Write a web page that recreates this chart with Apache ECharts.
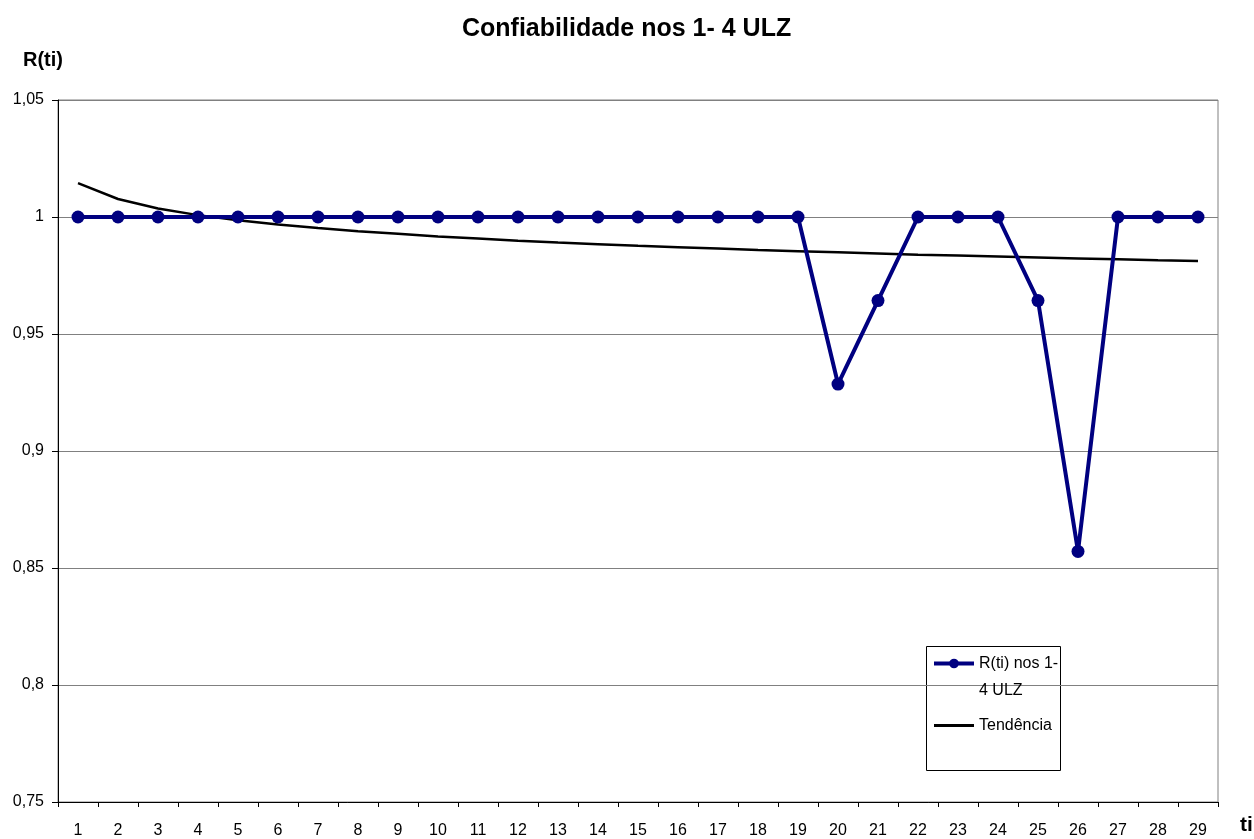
<!DOCTYPE html>
<html>
<head>
<meta charset="utf-8">
<title>Confiabilidade nos 1- 4 ULZ</title>
<script src="https://cdn.jsdelivr.net/npm/echarts@6/dist/echarts.min.js"></script>
<style>
    html, body { margin: 0; padding: 0; background: #fff; }
    #chart { width: 1254px; height: 839px; }
</style>
</head>
<body>
<div id="chart"></div>
<script>
// categorias (ti)
const ti = ['1', '2', '3', '4', '5', '6', '7', '8', '9', '10', '11', '12', '13', '14', '15',
    '16', '17', '18', '19', '20', '21', '22', '23', '24', '25', '26', '27', '28', '29'];

// R(ti) nos 1-4 ULZ
const rti = [1, 1, 1, 1, 1, 1, 1, 1, 1, 1, 1, 1, 1, 1, 1, 1, 1, 1, 1,
    0.9286, 0.9643, 1, 1, 1, 0.9643, 0.8571, 1, 1, 1];

// linha de tendência
const tendencia = [1.0145, 1.0077, 1.0036, 1.0008, 0.9986, 0.9968, 0.9953, 0.9939, 0.9928, 0.9917,
    0.9908, 0.9899, 0.9891, 0.9884, 0.9877, 0.9871, 0.9865, 0.9859, 0.9854, 0.9849,
    0.9844, 0.9839, 0.9835, 0.9831, 0.9827, 0.9823, 0.9819, 0.9815, 0.9812];

const serieNome = 'R(ti) nos 1-4 ULZ';
const font = 'Liberation Sans, Arial, sans-serif';

const chart = echarts.init(document.getElementById('chart'));

chart.setOption({
    backgroundColor: '#fff',
    animation: false,
    title: {
        text: 'Confiabilidade nos 1- 4 ULZ',
        left: 457,
        top: 12,
        textStyle: { fontFamily: font, fontSize: 25, fontWeight: 'bold', color: '#000' }
    },
    grid: {
        left: 58,
        right: 36,
        top: 100,
        bottom: 37,
        outerBoundsMode: 'none',
        show: true,
        borderColor: '#808080',
        borderWidth: 1
    },
    legend: {
        orient: 'vertical',
        left: 932,
        top: 623,
        itemWidth: 40,
        itemHeight: 12,
        itemGap: 8,
        padding: 0,
        data: [
            { name: serieNome, lineStyle: { width: 4 } },
            { name: 'Tendência', itemStyle: { opacity: 0 }, lineStyle: { width: 3 } }
        ],
        // linha vazia no topo para o ícone ficar alinhado com a 1a linha do texto
        formatter: (name) => name === serieNome ? '\nR(ti) nos 1-\n4 ULZ' : name,
        textStyle: { fontFamily: font, fontSize: 16, color: '#000', lineHeight: 27 }
    },
    graphic: [
        {
            type: 'rect',
            z: 0,
            shape: { x: 926.5, y: 646.5, width: 134, height: 124 },
            style: { fill: '#fff', stroke: '#000', lineWidth: 1 }
        }
    ],
    xAxis: {
        type: 'category',
        data: ti,
        boundaryGap: true,
        name: 'ti',
        nameLocation: 'end',
        nameGap: 22,
        nameTextStyle: { fontFamily: font, fontSize: 21, fontWeight: 'bold', color: '#000', verticalAlign: 'top', padding: [13, 0, 0, 0] },
        axisLine: { show: true, lineStyle: { color: '#000', width: 1 } },
        axisTick: { show: true, alignWithLabel: false, length: 5, lineStyle: { color: '#000' } },
        axisLabel: { fontFamily: font, fontSize: 16, color: '#000', margin: 21 },
        splitLine: { show: false }
    },
    yAxis: {
        type: 'value',
        min: 0.75,
        max: 1.05,
        interval: 0.05,
        name: 'R(ti)',
        nameLocation: 'end',
        nameGap: 30,
        nameTextStyle: { fontFamily: font, fontSize: 20, fontWeight: 'bold', color: '#000', align: 'center', padding: [0, 30, 0, 0] },
        axisLine: { show: true, lineStyle: { color: '#000', width: 1 } },
        axisTick: { show: true, length: 6, lineStyle: { color: '#000' } },
        axisLabel: {
            fontFamily: font, fontSize: 16, color: '#000', margin: 14,
            formatter: (v) => String(parseFloat(v.toFixed(2))).replace('.', ',')
        },
        splitLine: { show: true, lineStyle: { color: '#808080', width: 1 } }
    },
    series: [
        {
            name: serieNome,
            type: 'line',
            data: rti,
            z: 3,
            color: '#000080',
            symbol: 'circle',
            symbolSize: 13,
            lineStyle: { color: '#000080', width: 4 },
            itemStyle: { color: '#000080' }
        },
        {
            name: 'Tendência',
            type: 'line',
            data: tendencia,
            z: 2,
            color: '#000',
            symbol: 'none',
            lineStyle: { color: '#000', width: 2.5 }
        }
    ]
});
</script>
</body>
</html>
